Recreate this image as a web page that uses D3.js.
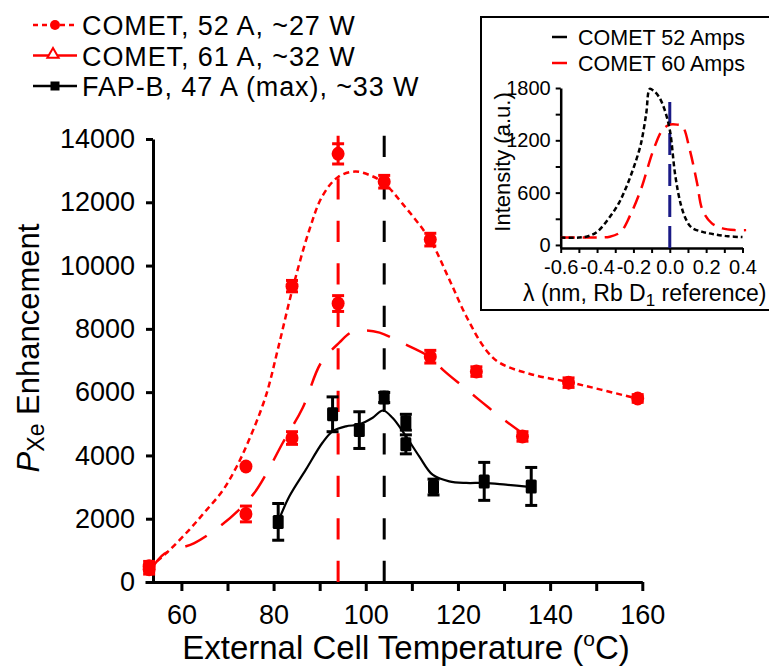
<!DOCTYPE html>
<html><head><meta charset="utf-8">
<script src="https://cdn.jsdelivr.net/npm/d3@7"></script>
<style>
body{margin:0;background:#fff}
svg{display:block}
text{font-family:"Liberation Sans",Arial,sans-serif;fill:#000}
</style>
</head><body>
<svg id="c" width="769" height="667"></svg>
<script>
// ---------- main chart data ----------
const seriesNames = ["COMET, 52 A, ~27 W", "COMET, 61 A, ~32 W", "FAP-B, 47 A (max), ~33 W"];
// COMET 52 A (measured points)
const T52 = [53, 74, 84, 94, 104, 114, 144, 159];
const V52 = [500, 3650, 9350, 13530, 12650, 10820, 6300, 5800];
const E52 = [150, 0, 180, 320, 200, 200, 150, 120];
// COMET 61 A
const T61 = [53, 74, 84, 94, 114, 124, 134];
const V61 = [400, 2150, 4550, 8800, 7120, 6650, 4600];
const E61 = [150, 250, 200, 250, 200, 150, 150];
// FAP-B
const TF = [81, 92.8, 98.6, 104, 108.7, 108.7, 114.7, 125.7, 135.9];
const VF = [1900, 5300, 4800, 5830, 5050, 4350, 3000, 3180, 3020];
const EF = [580, 550, 580, 160, 250, 300, 250, 600, 600];
// fitted curves
const fitT52 = [53, 57, 61.7, 65, 69, 72, 74.7, 78.3, 81, 84, 87.7, 90.6, 94, 97.7, 101, 104, 108, 114, 118, 121.8, 126, 129, 136, 144, 151, 159];
const fitV52 = [450, 950, 1650, 2200, 2900, 3650, 4500, 5870, 7400, 9200, 11100, 12200, 12800, 12970, 12850, 12600, 11950, 10800, 9600, 8400, 7350, 6930, 6560, 6320, 6080, 5790];
const fitT61 = [53.5, 56.3, 59.5, 62.8, 67.8, 72.5, 75.8, 78.3, 82, 86.3, 90.3, 94.3, 97, 100, 103, 108, 114, 117, 121.4, 125.4, 129.4, 134.4];
const fitV61 = [420, 890, 1060, 1230, 1700, 2280, 2810, 3390, 4400, 5500, 6930, 7570, 7900, 7950, 7880, 7550, 7100, 6670, 6140, 5660, 5190, 4660];
const fitTF = [81, 83.4, 87, 90.6, 92.8, 95.7, 98.6, 101.5, 103.7, 105.8, 108.7, 111.6, 114.5, 118.1, 121.8, 125.7, 130.4, 136];
const fitVF = [1911, 2700, 3550, 4400, 4760, 4920, 4980, 5190, 5420, 5190, 4610, 3970, 3390, 3180, 3130, 3130, 3075, 3000];
// vertical reference lines
const vlineT = [94, 104];
const vlineTop = 14120;
// ticks
const xTicks = [60, 70, 80, 90, 100, 110, 120, 130, 140, 150, 160];
const yTicks = [0, 2000, 4000, 6000, 8000, 10000, 12000, 14000];

// ---------- inset data ----------
const insetNames = ["COMET 52 Amps", "COMET 60 Amps"];
const inL52 = [-0.6, -0.5, -0.45, -0.4, -0.33, -0.28, -0.24, -0.2, -0.16, -0.13, -0.11, -0.09, -0.06, -0.03, 0.0, 0.03, 0.06, 0.09, 0.12, 0.18, 0.25, 0.32, 0.4];
const inI52 = [85, 85, 100, 150, 320, 480, 660, 880, 1150, 1500, 1790, 1770, 1700, 1560, 1320, 800, 470, 290, 200, 150, 120, 100, 90];
const inL60 = [-0.6, -0.5, -0.4, -0.33, -0.27, -0.22, -0.16, -0.09, -0.04, 0.0, 0.04, 0.07, 0.11, 0.15, 0.18, 0.23, 0.29, 0.36, 0.42];
const inI60 = [85, 85, 85, 95, 150, 330, 630, 1090, 1320, 1380, 1380, 1360, 1090, 710, 400, 250, 190, 170, 170];
const inXTicks = [-0.6, -0.5, -0.4, -0.3, -0.2, -0.1, 0.0, 0.1, 0.2, 0.3, 0.4];
const inXLabels = ["-0.6", "-0.4", "-0.2", "0.0", "0.2", "0.4"];
const inYTicks = [0, 300, 600, 900, 1200, 1500, 1800];
const inYLabels = [0, 600, 1200, 1800];
const refLine = {lambda: 0.0, top: 1690};

// ---------- drawing ----------
const RED = "#ff0000", BLK = "#000000", NAVY = "#1a1a86";
const svg = d3.select("#c");

const x = d3.scaleLinear().domain([52.1, 160]).range([145, 642.3]);
const y = d3.scaleLinear().domain([0, 14000]).range([582, 139]);

function styleAxis(g, fs) {
  g.select(".domain").attr("stroke", BLK).attr("stroke-width", 3);
  g.selectAll(".tick line").attr("stroke", BLK).attr("stroke-width", 3);
  g.selectAll(".tick text").attr("font-size", fs).attr("fill", BLK)
    .attr("font-family", '"Liberation Sans",Arial,sans-serif');
}

// x axis
const gx = svg.append("g").attr("transform", "translate(0,582)")
  .call(d3.axisBottom(x).tickValues(xTicks).tickSize(9).tickSizeOuter(0).tickPadding(14)
    .tickFormat(d => d % 20 === 0 ? String(d) : ""));
styleAxis(gx, 27);
// y axis
const gy = svg.append("g").attr("transform", "translate(153,0)")
  .call(d3.axisLeft(y).tickValues(yTicks).tickSize(7).tickSizeOuter(0).tickPadding(11)
    .tickFormat(d => String(d)));
styleAxis(gy, 27);

// axis titles
const xt = svg.append("text").attr("x", 406).attr("y", 659).attr("text-anchor", "middle").attr("font-size", 33);
xt.append("tspan").text("External Cell Temperature (");
xt.append("tspan").attr("font-size", 21).attr("dy", -13).text("o");
xt.append("tspan").attr("dy", 13).text("C)");

const yt = svg.append("text").attr("transform", "translate(39,348) rotate(-90)")
  .attr("text-anchor", "middle").attr("font-size", 31);
yt.append("tspan").attr("font-style", "italic").text("P");
yt.append("tspan").attr("font-size", 23).attr("dy", 5).text("Xe");
yt.append("tspan").attr("dy", -5).text(" Enhancement");

// vertical dashed reference lines
const vcol = [RED, BLK];
vlineT.forEach((t, i) => {
  svg.append("line").attr("x1", x(t)).attr("x2", x(t)).attr("y1", y(0)).attr("y2", y(vlineTop))
    .attr("stroke", vcol[i]).attr("stroke-width", 3).attr("stroke-dasharray", "21.25,21.25");
});

// fit curves
const line = d3.line().x(d => x(d[0])).y(d => y(d[1])).curve(d3.curveCatmullRom.alpha(0.5));
svg.append("path").datum(d3.zip(fitT52, fitV52)).attr("d", line).attr("fill", "none")
  .attr("stroke", RED).attr("stroke-width", 2.5).attr("stroke-dasharray", "6,4");
svg.append("path").datum(d3.zip(fitT61, fitV61)).attr("d", line).attr("fill", "none")
  .attr("stroke", RED).attr("stroke-width", 2.5).attr("stroke-dasharray", "24,18");
svg.append("path").datum(d3.zip(fitTF, fitVF)).attr("d", line).attr("fill", "none")
  .attr("stroke", BLK).attr("stroke-width", 2.2);

// error bars + markers
function errBars(T, V, E, col) {
  const g = svg.append("g");
  T.forEach((t, i) => {
    if (!E[i]) return;
    const cx = x(t), y1 = y(V[i] - E[i]), y2 = y(V[i] + E[i]);
    g.append("line").attr("x1", cx).attr("x2", cx).attr("y1", y1).attr("y2", y2).attr("stroke", col).attr("stroke-width", 3);
    [y1, y2].forEach(yy => g.append("line").attr("x1", cx - 6).attr("x2", cx + 6).attr("y1", yy).attr("y2", yy)
      .attr("stroke", col).attr("stroke-width", 3));
  });
}
errBars(T52, V52, E52, RED);
errBars(T61, V61, E61, RED);
errBars(TF, VF, EF, BLK);

function circles(T, V) {
  svg.append("g").selectAll("ellipse").data(d3.zip(T, V)).join("ellipse")
    .attr("cx", d => x(d[0])).attr("cy", d => y(d[1])).attr("rx", 6.5).attr("ry", 7).attr("fill", RED);
}
circles(T52, V52);
circles(T61, V61);
svg.append("g").selectAll("rect").data(d3.zip(TF, VF)).join("rect")
  .attr("x", d => x(d[0]) - 5.5).attr("y", d => y(d[1]) - 7).attr("width", 11).attr("height", 14)
  .attr("rx", 1.5).attr("fill", BLK);

// legend
const legY = [25, 55.5, 86];
const lg = svg.append("g");
// row 1
lg.append("line").attr("x1", 33).attr("x2", 77).attr("y1", legY[0]).attr("y2", legY[0])
  .attr("stroke", RED).attr("stroke-width", 2.5).attr("stroke-dasharray", "5,4");
lg.append("circle").attr("cx", 55).attr("cy", legY[0]).attr("r", 5).attr("fill", RED);
// row 2
lg.append("line").attr("x1", 33).attr("x2", 77).attr("y1", legY[1]).attr("y2", legY[1])
  .attr("stroke", RED).attr("stroke-width", 2.5);
lg.append("path").attr("d", d3.symbol(d3.symbolTriangle, 55)()).attr("transform", `translate(53,${legY[1] - 1})`)
  .attr("fill", "#fff").attr("stroke", RED).attr("stroke-width", 2);
// row 3
lg.append("line").attr("x1", 33).attr("x2", 77).attr("y1", legY[2]).attr("y2", legY[2])
  .attr("stroke", BLK).attr("stroke-width", 2.5);
lg.append("rect").attr("x", 50.5).attr("y", legY[2] - 4.5).attr("width", 9).attr("height", 9).attr("fill", BLK);
seriesNames.forEach((s, i) => {
  lg.append("text").attr("x", 82).attr("y", legY[i] + 10).attr("font-size", 27)
    .attr("letter-spacing", "0.9px").text(s);
});

// ---------- inset ----------
svg.append("rect").attr("x", 481).attr("y", 17).attr("width", 300).attr("height", 293)
  .attr("fill", "#fff").attr("stroke", BLK).attr("stroke-width", 2);
const xi = d3.scaleLinear().domain([-0.6, 0.4]).range([560.7, 742.5]);
const yi = d3.scaleLinear().domain([-35, 1800]).range([248, 88]);

const fmt1 = d3.format(".1f");
const gxi = svg.append("g").attr("transform", "translate(0,248)")
  .call(d3.axisBottom(xi).tickValues(inXTicks).tickSize(5).tickSizeOuter(0).tickPadding(7)
    .tickFormat(d => { const s = fmt1(d).replace("\u2212", "-"); return inXLabels.includes(s) ? s : ""; }));
styleAxis(gxi, 20);
gxi.select(".domain").attr("stroke-width", 2.5);
gxi.selectAll(".tick line").attr("stroke-width", 2);
const gyi = svg.append("g").attr("transform", "translate(560.7,0)")
  .call(d3.axisLeft(yi).tickValues(inYTicks).tickSize(5).tickSizeOuter(0).tickPadding(5)
    .tickFormat(d => inYLabels.includes(d) ? String(d) : ""));
styleAxis(gyi, 20);
gyi.select(".domain").attr("stroke-width", 2.5);
gyi.selectAll(".tick line").attr("stroke-width", 2);

// reference line
svg.append("line").attr("x1", xi(refLine.lambda)).attr("x2", xi(refLine.lambda))
  .attr("y1", yi(-35)).attr("y2", yi(refLine.top))
  .attr("stroke", NAVY).attr("stroke-width", 3).attr("stroke-dasharray", "22,9");

const lineI = d3.line().x(d => xi(d[0])).y(d => yi(d[1])).curve(d3.curveCatmullRom.alpha(0.5));
svg.append("path").datum(d3.zip(inL60, inI60)).attr("d", lineI).attr("fill", "none")
  .attr("stroke", RED).attr("stroke-width", 2.5).attr("stroke-dasharray", "14,8");
svg.append("path").datum(d3.zip(inL52, inI52)).attr("d", lineI).attr("fill", "none")
  .attr("stroke", BLK).attr("stroke-width", 2.5).attr("stroke-dasharray", "5,3");

// inset legend
const ilY = [37, 63];
const ilCol = [BLK, RED];
insetNames.forEach((s, i) => {
  svg.append("line").attr("x1", 552).attr("x2", 567).attr("y1", ilY[i]).attr("y2", ilY[i])
    .attr("stroke", ilCol[i]).attr("stroke-width", 2.5);
  svg.append("text").attr("x", 578).attr("y", ilY[i] + 8).attr("font-size", 21.5).text(s);
});

// inset axis titles
svg.append("text").attr("transform", "translate(510,162) rotate(-90)")
  .attr("text-anchor", "middle").attr("font-size", 22).text("Intensity (a.u.)");
const ixt = svg.append("text").attr("x", 523).attr("y", 301).attr("font-size", 23);
ixt.append("tspan").text("λ (nm, Rb D");
ixt.append("tspan").attr("font-size", 17).attr("dy", 5).text("1");
ixt.append("tspan").attr("dy", -5).text(" reference)");
</script>
</body></html>
